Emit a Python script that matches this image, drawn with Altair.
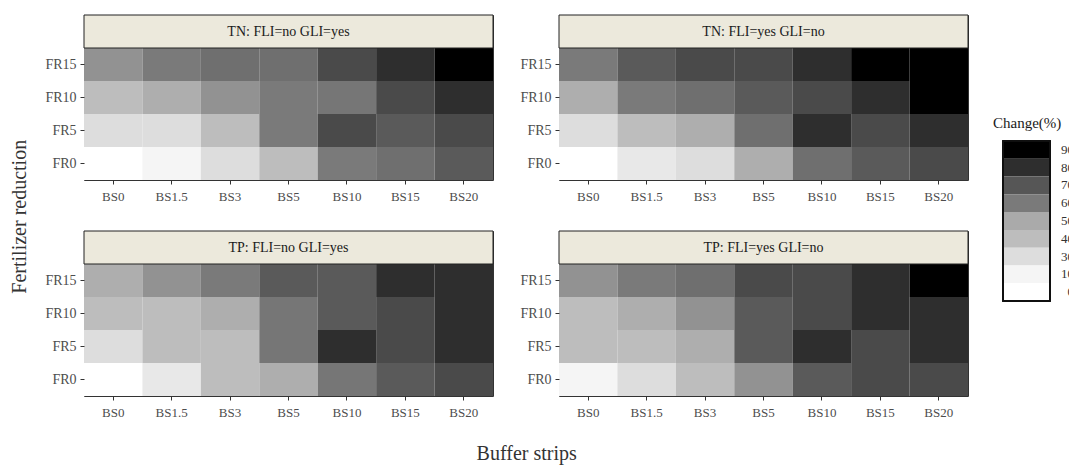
import altair as alt
import pandas as pd

BS = ["BS0", "BS1.5", "BS3", "BS5", "BS10", "BS15", "BS20"]
FR = ["FR15", "FR10", "FR5", "FR0"]
PANELS = ["TN:  FLI=no  GLI=yes", "TN:  FLI=yes  GLI=no",
          "TP:  FLI=no  GLI=yes", "TP:  FLI=yes  GLI=no"]

# Change (%) per cell; rows follow FR, columns follow BS
TN_NO_YES = [[55, 60, 63, 63, 73, 80, 90],
             [40, 48, 55, 60, 61, 73, 80],
             [30, 30, 40, 60, 73, 69, 73],
             [0, 10, 30, 40, 60, 63, 69]]
TN_YES_NO = [[60, 69, 73, 73, 80, 90, 90],
             [48, 60, 63, 69, 73, 80, 90],
             [30, 40, 48, 63, 80, 73, 80],
             [0, 21, 30, 48, 63, 69, 73]]
TP_NO_YES = [[48, 55, 60, 69, 69, 80, 80],
             [40, 40, 48, 61, 69, 73, 80],
             [30, 40, 40, 61, 80, 73, 80],
             [0, 21, 40, 48, 61, 69, 73]]
TP_YES_NO = [[55, 60, 63, 73, 73, 80, 90],
             [40, 48, 55, 69, 73, 80, 80],
             [40, 40, 48, 69, 80, 73, 80],
             [10, 30, 40, 55, 69, 73, 73]]
VALUES = [TN_NO_YES, TN_YES_NO, TP_NO_YES, TP_YES_NO]

LEG_LABELS = ["90", "80", "70", "60", "50", "40", "30", "10", "0"]
LEG_VALUES = [90, 80, 70, 60, 50, 40, 30, 10, 0]
LEG_COLORS = ["#000000", "#2e2e2e", "#565656", "#7a7a7a", "#aaaaaa",
              "#bdbdbd", "#dddddd", "#f5f5f5", "#ffffff"]

FONT = "Liberation Serif"
STRIP = "#ECE9DC"
W, ROW = 409, 33
H = ROW * 5
YDOM = ["strip"] + FR

cscale = alt.Scale(domain=LEG_VALUES[::-1], range=LEG_COLORS[::-1], interpolate="rgb")

def axis_x():
    return alt.Axis(title=None, labelAngle=0, ticks=True, tickSize=4, tickColor="#333",
                    labelColor="#4d4d4d", labelFontSize=13, labelFont=FONT, labelPadding=6,
                    domain=False, grid=False)

def axis_y():
    return alt.Axis(title=None, values=FR, ticks=True, tickSize=4, tickColor="#333",
                    labelColor="#4d4d4d", labelFontSize=14, labelFont=FONT, labelPadding=4,
                    domain=False, grid=False)

def panel(title, vals):
    df = pd.DataFrame([{"bs": b, "fr": f, "change": vals[i][j]}
                       for i, f in enumerate(FR) for j, b in enumerate(BS)])
    yscale = alt.Scale(domain=YDOM, paddingInner=0, paddingOuter=0)
    heat = alt.Chart(df).mark_rect().encode(
        x=alt.X("bs:O", sort=BS, scale=alt.Scale(paddingInner=0, paddingOuter=0), axis=axis_x()),
        y=alt.Y("fr:O", scale=yscale, axis=axis_y()),
        color=alt.Color("change:Q", scale=cscale, legend=None),
    )
    sdf = pd.DataFrame({"fr": ["strip"], "label": [title]})
    strip = alt.Chart(sdf).mark_rect(fill=STRIP, stroke="#222", strokeWidth=1).encode(
        x=alt.value(0), x2=alt.value(W),
        y=alt.Y("fr:O", scale=yscale, axis=axis_y()),
    )
    txt = alt.Chart(sdf).mark_text(font=FONT, fontSize=14, color="#1a1a1a").encode(
        x=alt.value(W / 2),
        y=alt.Y("fr:O", scale=yscale, axis=axis_y()),
        text="label:N",
    )
    return alt.layer(heat, strip, txt).properties(width=W, height=H)

p = [panel(t, v) for t, v in zip(PANELS, VALUES)]
row1 = alt.hconcat(p[0], p[1], spacing=25)
row2 = alt.hconcat(p[2], p[3], spacing=25)
grid = alt.vconcat(row1, row2, spacing=26).properties(
    title=alt.TitleParams("Fertilizer reduction", orient="left", anchor="middle",
                          font=FONT, fontSize=20, fontWeight="normal", color="#333", offset=14)
)

ldf = pd.DataFrame({"lab": LEG_LABELS, "v": LEG_VALUES})
ly = alt.Scale(domain=LEG_LABELS, range=[126, 286], paddingInner=0, paddingOuter=0)
boxes = alt.Chart(ldf).mark_rect().encode(
    x=alt.value(0), x2=alt.value(47),
    y=alt.Y("lab:N", sort=LEG_LABELS, scale=ly, axis=None),
    color=alt.Color("v:Q", scale=cscale, legend=None),
)
outline = alt.Chart(ldf).mark_rect(filled=False, stroke="#111", strokeWidth=1.2).encode(
    x=alt.value(0), x2=alt.value(47), y=alt.value(126), y2=alt.value(286),
)
labels = alt.Chart(ldf).mark_text(align="right", baseline="middle", font=FONT, fontSize=13,
                                  color="#333", clip=True).encode(
    x=alt.value(71),
    y=alt.Y("lab:N", sort=LEG_LABELS, scale=ly, axis=None),
    text="lab:N",
)
ltitle = alt.Chart(pd.DataFrame({"t": ["Change(%)"]})).mark_text(
    align="left", baseline="middle", font=FONT, fontSize=15, color="#1a1a1a").encode(
    x=alt.value(-10), y=alt.value(108), text="t:N",
)
legend = alt.layer(boxes, outline, labels, ltitle).properties(
    width=66, height=390, view=alt.ViewBackground(strokeOpacity=0)
)

chart = alt.hconcat(grid, legend, spacing=24).properties(
    title=alt.TitleParams("Buffer strips", orient="bottom", anchor="middle", font=FONT,
                          fontSize=20, fontWeight="normal", color="#333", offset=24, dx=-13),
    padding={"left": 10, "top": 14, "right": 0, "bottom": 4},
).configure(font=FONT).configure_view(stroke="#333", strokeWidth=1)

chart.save("out.html", embed_options={"renderer": "svg", "actions": False})
